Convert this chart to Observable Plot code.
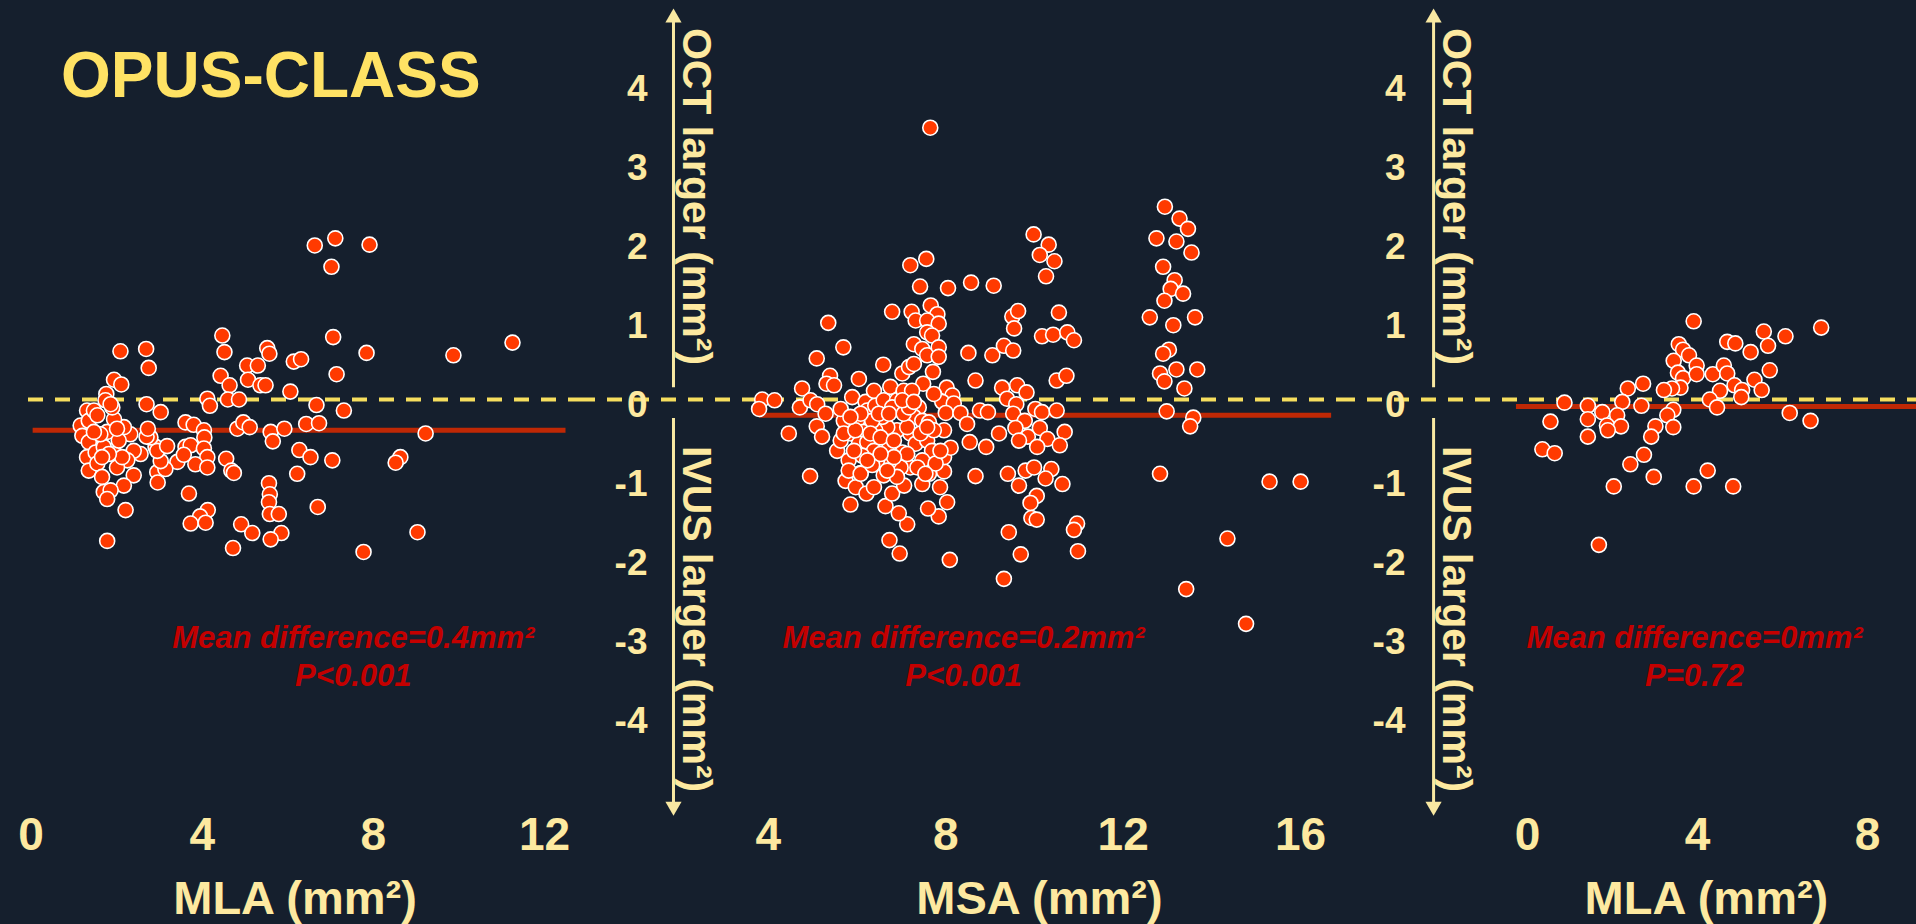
<!DOCTYPE html>
<html><head><meta charset="utf-8">
<script src="https://cdn.jsdelivr.net/npm/d3@7"></script>
<script src="https://cdn.jsdelivr.net/npm/@observablehq/plot@0.6"></script>
<style>
html,body{margin:0;padding:0;background:#151f2d;overflow:hidden}
#chart{position:relative;width:1916px;height:924px;background:#151f2d;font-family:"Liberation Sans",Arial,sans-serif}
#chart svg{position:absolute;top:0}
#title{position:absolute;left:61px;top:43px;font-weight:bold;font-size:64px;line-height:64px;color:#ffe264;white-space:nowrap;font-family:"Liberation Sans",Arial,sans-serif}
</style></head><body>
<div id="chart"><div id="title">OPUS-CLASS</div></div>
<script>
// Panel 1: MLA (mm²) vs OCT−IVUS difference
const mlaPanel1 = [
[6.63,1.95],[7.11,2.04],[7.91,1.96],[7.02,1.68],
[11.25,0.72],[9.87,0.56],[9.22,-0.43],[8.63,-0.73],[8.52,-0.80],[9.03,-1.68],[7.77,-1.93],
[4.47,0.81],[4.52,0.60],[2.09,0.61],[2.69,0.64],[2.75,0.40],[5.52,0.65],[5.57,0.58],[7.06,0.79],[7.84,0.59],[6.14,0.48],[6.31,0.51],[7.14,0.32],[5.05,0.43],[5.30,0.43],[5.07,0.25],[5.36,0.18],[5.48,0.18],[4.43,0.30],[4.64,0.18],[4.60,0.00],[4.86,0.00],[4.12,0.01],[4.18,-0.08],[6.06,0.10],[6.67,-0.07],[7.31,-0.14],[1.94,0.25],[2.11,0.19],[1.76,0.07],[2.70,-0.06],[3.03,-0.16],[3.61,-0.29],[3.80,-0.32],[4.04,-0.39],[4.05,-0.48],[4.82,-0.37],[4.96,-0.29],[5.11,-0.35],[5.60,-0.41],[5.92,-0.37],[5.65,-0.53],[6.43,-0.31],[6.73,-0.30],[6.27,-0.64],[6.53,-0.73],[7.04,-0.77],[6.22,-0.94],[4.56,-0.75],[4.68,-0.90],[4.74,-0.93],
[3.61,-0.60],[3.73,-0.58],[4.04,-0.62],[4.12,-0.73],[3.84,-0.82],[4.12,-0.86],[3.42,-0.79],[3.57,-0.70],
[3.69,-1.19],[4.13,-1.40],[3.95,-1.48],[3.73,-1.57],[4.08,-1.56],
[5.56,-1.06],[5.58,-1.20],[5.56,-1.30],[5.58,-1.45],[5.79,-1.45],[5.85,-1.69],[5.60,-1.77],
[4.91,-1.58],[5.17,-1.69],[4.72,-1.88],[6.70,-1.36],[2.21,-1.40],[1.78,-1.79],
[2.95,-0.92],[2.96,-1.05],[3.14,-0.88],[3.03,-0.78],[2.91,-0.60],[2.95,-0.65],[3.18,-0.59],[2.79,-0.48],[2.70,-0.47],[2.73,-0.37],
[2.56,-0.69],[2.40,-0.65],[2.40,-0.96],[2.17,-1.09],[2.25,-0.77],[2.32,-0.44],[2.17,-0.35],
[1.16,-0.33],[1.20,-0.46],[1.31,-0.14],[1.35,-0.27],[1.47,-0.14],[1.35,-0.54],[1.31,-0.73],[1.35,-0.90],[1.51,-0.67],[1.55,-0.81],[1.66,-0.98],[1.70,-1.17],[1.86,-1.15],[1.78,-1.26],[1.70,-0.60],[1.78,-0.41],[1.94,-0.25],[1.90,-0.10],[1.97,-0.69],[2.01,-0.86],[2.13,-0.73],[2.05,-0.52],[1.62,-0.44],[1.47,-0.41],[1.74,-0.01],[1.86,-0.06],[1.55,-0.20],[1.82,-0.69],[1.66,-0.73],[2.01,-0.37]
];

// Panel 2: MSA (mm²) vs difference
const msaPanel2 = [
[7.20,1.70],[7.56,1.78],[7.42,1.43],[8.05,1.41],[8.57,1.48],[9.08,1.44],
[6.79,1.11],[7.23,1.11],[7.32,1.00],[7.66,1.19],[7.81,1.08],[7.58,1.00],[7.84,0.96],[7.58,0.85],[7.69,0.81],
[7.28,0.70],[7.47,0.64],[7.58,0.56],[7.84,0.66],[7.84,0.54],
[5.35,0.97],[5.69,0.66],[5.09,0.52],[6.59,0.44],[7.02,0.33],[7.17,0.41],[7.28,0.45],[7.71,0.35],[7.49,0.20],
[5.39,0.30],[5.31,0.20],[5.48,0.18],[6.04,0.26],
[4.76,0.14],[4.71,-0.10],[4.95,-0.01],[5.10,-0.06],[5.29,-0.18],
[3.86,0.00],[4.14,-0.01],[3.79,-0.12],
[4.46,-0.43],[5.09,-0.34],[5.21,-0.47],[4.94,-0.97],
[8.51,0.59],[9.05,0.56],[8.67,0.24],
[8.02,0.15],[8.15,0.05],[7.92,-0.03],[8.18,-0.05],[8.00,-0.17],[8.33,-0.17],[8.48,-0.31],
[8.77,-0.14],[8.95,-0.16],
[8.54,-0.54],[8.91,-0.60],[9.20,-0.43],[8.67,-0.97],
[8.09,-2.03],[6.73,-1.78],[6.96,-1.95],
[7.13,-1.58],[6.94,-1.44],[6.64,-1.35],[6.79,-1.19],
[7.84,-1.48],[7.60,-1.38],[8.03,-1.30],[7.87,-1.11],[7.96,-0.91],[7.47,-1.07],[7.06,-1.09],[7.62,-0.94],[7.96,-0.73],[8.11,-0.61],[7.81,-0.67],
[5.85,-1.33],[5.74,-1.03],[5.97,-1.11],[6.21,-1.19],[6.38,-1.11],[6.08,-0.93],
[5.55,-0.65],[5.63,-0.52],[5.81,-0.77],[5.85,-0.43],[6.00,-0.27],[5.70,-0.27],[5.89,0.03],[5.63,-0.12],[6.19,-0.03],[6.23,-0.14],[6.41,-0.08],[6.38,0.11],[6.60,-0.01],[6.75,0.16],[6.90,-0.01],[7.05,0.11],[7.24,0.11],[7.39,-0.10],[7.28,-0.22],[7.47,-0.27],[7.62,-0.29],[7.20,-0.43],[6.90,-0.39],[6.68,-0.35],[6.41,-0.39],[6.15,-0.41],[6.04,-0.56],[6.23,-0.54],[6.38,-0.65],[6.72,-0.62],[7.02,-0.67],[7.32,-0.56],[7.58,-0.52],[7.69,-0.65],[7.47,-0.77],[7.20,-0.86],[6.98,-0.86],[6.72,-0.79],[6.45,-0.77],[6.11,-0.71],[5.93,-0.65],[5.81,-0.90],[6.08,-0.94],[6.34,-0.83],[6.60,-0.96],[6.90,-0.98],[7.36,-0.86],[7.77,-0.81],[7.96,-0.39],[7.73,0.07],[6.79,-0.10],[6.57,-0.22],[6.34,-0.27],
[5.70,-0.43],[5.96,-0.39],[6.30,-0.43],[6.53,-0.48],[6.83,-0.52],[7.13,-0.35],[7.43,-0.43],[7.73,-0.39],[7.88,-0.65],[7.13,-0.69],[6.83,-0.73],[6.53,-0.69],[6.23,-0.77],[6.49,-0.18],[6.72,-0.18],[7.05,-0.18],[7.17,-0.10],[6.08,-0.18],[5.85,-0.22],[7.02,-0.01],[7.28,-0.03],[7.58,-0.35],[6.68,-0.90],[7.54,-0.94],
[9.98,2.09],[10.32,1.96],[10.12,1.83],[10.45,1.75],[10.26,1.56],
[9.50,1.05],[9.63,1.12],[9.54,0.90],[10.55,1.10],
[10.17,0.80],[10.42,0.82],[10.74,0.85],[10.89,0.75],
[9.31,0.68],[9.52,0.62],[10.50,0.24],[10.72,0.30],
[9.27,0.15],[9.61,0.18],[9.82,0.09],[9.38,0.01],[9.59,-0.06],
[10.02,-0.12],[10.17,-0.16],[10.50,-0.14],[9.52,-0.18],
[9.78,-0.27],[10.12,-0.36],[9.57,-0.36],[9.85,-0.47],[10.29,-0.50],[10.06,-0.60],[10.68,-0.41],[10.57,-0.58],[9.65,-0.52],
[9.40,-0.94],[9.65,-1.09],[9.80,-0.90],[9.99,-0.86],[10.38,-0.88],[10.25,-1.00],[10.63,-1.07],
[10.05,-1.22],[9.91,-1.31],[9.93,-1.50],[10.05,-1.52],
[10.96,-1.57],[10.89,-1.65],[10.98,-1.92],
[9.42,-1.68],[9.69,-1.96],[9.31,-2.27],
[12.94,2.44],[13.27,2.29],[13.46,2.16],[12.75,2.04],[13.20,2.00],[13.54,1.86],
[12.90,1.68],[13.16,1.51],[13.07,1.40],[13.35,1.34],[12.93,1.25],
[12.60,1.04],[13.62,1.04],[13.13,0.94],
[13.03,0.63],[12.90,0.58],[12.83,0.33],[12.93,0.23],[13.20,0.38],[13.67,0.38],[13.38,0.14],
[12.98,-0.15],[13.58,-0.23],[13.51,-0.34],[12.83,-0.94],[13.42,-2.40],[14.35,-1.76],
[15.30,-1.04],[16.00,-1.04],[14.77,-2.84],[7.65,3.44]
];

// Panel 3: MLA (mm²) vs difference
const mlaPanel3 = [
[3.91,0.99],[6.91,0.91],[5.56,0.86],[6.07,0.80],[5.66,0.68],[5.25,0.60],[4.70,0.73],[4.89,0.71],
[5.70,0.37],[5.34,0.25],[5.51,0.12],
[3.56,0.70],[3.66,0.63],[3.80,0.56],[3.44,0.49],[3.54,0.34],[3.66,0.27],[3.98,0.43],[3.98,0.32],[3.60,0.15],[3.40,0.14],[3.21,0.12],
[4.36,0.32],[4.62,0.43],[4.70,0.33],[4.53,0.11],[4.87,0.18],[5.05,0.12],
[5.03,0.03],[4.29,0.00],[4.46,-0.10],
[6.17,-0.17],[6.66,-0.27],
[2.36,0.14],[2.72,0.20],
[2.23,-0.03],[2.68,-0.08],[3.43,-0.13],[3.29,-0.20],[3.43,-0.35],[3.01,-0.34],[2.91,-0.47],
[0.87,-0.04],[1.42,-0.08],[1.76,-0.16],[2.11,-0.20],[1.87,-0.33],[2.20,-0.34],[1.89,-0.39],[1.42,-0.25],[1.42,-0.47],[0.54,-0.28],
[0.35,-0.63],[0.64,-0.68],
[2.74,-0.70],[2.42,-0.82],[2.97,-0.98],[4.24,-0.90],[2.03,-1.10],[3.91,-1.10],[4.84,-1.10],
[1.68,-1.84]
];

const panelPoints = [mlaPanel1, msaPanel2, mlaPanel3];
const xTicks = [[0, 4, 8, 12], [4, 8, 12, 16], [0, 4, 8]];
const yTicks = [-4, -3, -2, -1, 0, 1, 2, 3, 4];
const xTitles = ["MLA (mm²)", "MSA (mm²)", "MLA (mm²)"];
const xTitleAnchors = [[6.17, -6.32], [10.11, -6.32], [4.21, -6.32]];
const statLabels = ["Mean difference=0.4mm²\nP<0.001", "Mean difference=0.2mm²\nP<0.001", "Mean difference=0mm²\nP=0.72"];
const statAnchors = [[7.53, -3.23], [8.40, -3.23], [3.93, -3.23]];
const meanLines = [{y: -0.39, x1: 0.05, x2: 12.5}, {y: -0.2, x1: 3.8, x2: 16.7}, {y: -0.09, x1: -0.26, x2: 9.3}];
const arrowLabels = ["OCT larger (mm²)", "IVUS larger (mm²)"];
const arrowLabelY = [2.57, -2.78];
const arrowSegments = [[0.15, 4.83], [-0.24, -5.15]];
const arrowTips = [{y: 4.83, rot: 0}, {y: -5.15, rot: 180}];
const arrowX = [null, 1.86, -2.21];

const layout = [
  {left: 0, width: 580, marginLeft: 28, xDomain: [0, 12], xRange: [30.5, 544.1], tickDx: 0},
  {left: 580, width: 760, marginLeft: 0, xDomain: [4, 16], xRange: [187.9, 720.1], tickDx: 67},
  {left: 1340, width: 576, marginLeft: 0, xDomain: [0, 8], xRange: [187, 527], tickDx: 65}
];

const cream = "#fde9a0";
const fontFamily = '"Liberation Sans", Arial, sans-serif';
const chart = document.getElementById("chart");

layout.forEach((L, i) => {
  const marks = [
    Plot.ruleY([0], {stroke: "#f6de5e", strokeWidth: 4, strokeDasharray: "15,12"}),
    Plot.ruleY([meanLines[i]], {y: "y", x1: "x1", x2: "x2", stroke: "#bf2805", strokeWidth: 5}),
    Plot.dot(panelPoints[i], {x: d => d[0], y: d => d[1], r: 7.5, fill: "#ff3a00", stroke: "#ffffff", strokeWidth: 1.6}),
    Plot.axisX(xTicks[i], {tickSize: 0, tickPadding: 0, fontSize: 46, fontWeight: "bold", label: null, tickFormat: d => String(d), fill: cream}),
    Plot.text([{x: xTitleAnchors[i][0], y: xTitleAnchors[i][1], t: xTitles[i]}], {x: "x", y: "y", text: "t", fontSize: 47, fontWeight: "bold", fill: cream}),
    Plot.text([{x: statAnchors[i][0], y: statAnchors[i][1], t: statLabels[i]}], {x: "x", y: "y", text: "t", fontSize: 31, fontWeight: "bold", fontStyle: "italic", fill: "#c40000", lineHeight: 1.23})
  ];
  if (arrowX[i] !== null) {
    const ax = arrowX[i];
    marks.push(
      Plot.axisY(yTicks, {anchor: "left", tickSize: 0, tickPadding: 0, dx: L.tickDx, dy: 6, fontSize: 37, fontWeight: "bold", label: null, tickFormat: d => String(d), fill: cream}),
      Plot.ruleX(arrowSegments, {x: () => ax, y1: d => d[0], y2: d => d[1], stroke: "#f8e8a2", strokeWidth: 3}),
      Plot.dot(arrowTips, {x: () => ax, y: "y", rotate: "rot", symbol: "triangle", r: 6, fill: "#f8e8a2", stroke: "none"}),
      Plot.text(arrowLabels, {x: () => ax, y: (d, j) => arrowLabelY[j], text: d => d, rotate: 90, dx: 23, fontSize: 41, fontWeight: "bold", fill: cream})
    );
  }
  const svg = Plot.plot({
    width: L.width,
    height: 924,
    marginTop: 0,
    marginBottom: 107,
    marginLeft: L.marginLeft,
    marginRight: 0,
    style: {background: "transparent", color: cream, fontFamily, overflow: "visible"},
    x: {domain: L.xDomain, range: L.xRange},
    y: {domain: [-4, 4], range: [715, 83], axis: arrowX[i] === null ? null : undefined},
    marks
  });
  svg.style.left = L.left + "px";
  chart.appendChild(svg);
});
</script>
</body></html>
